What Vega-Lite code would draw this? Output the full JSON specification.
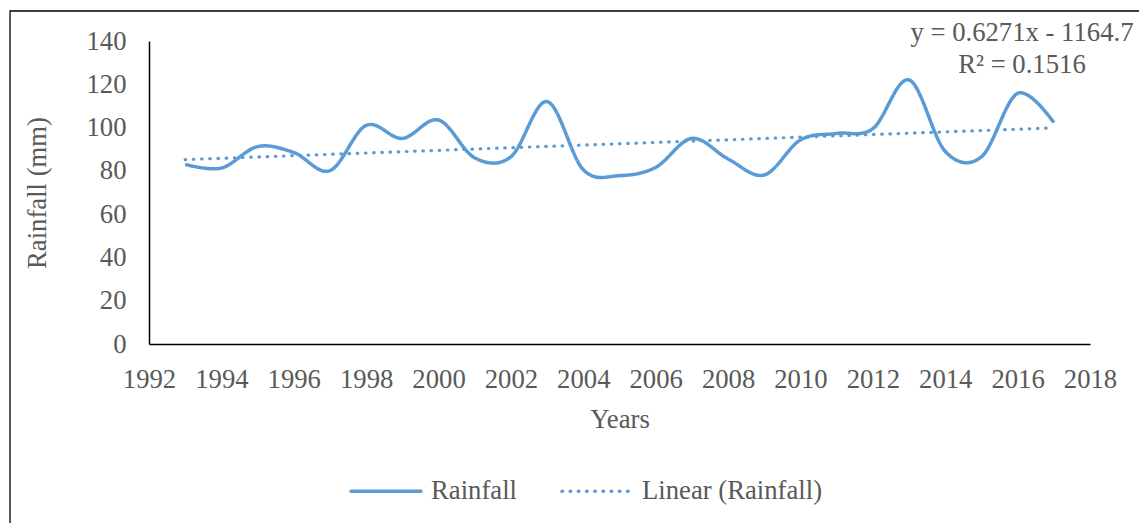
{
  "$schema": "https://vega.github.io/schema/vega-lite/v6.json",
  "width": 941,
  "height": 303,
  "autosize": "none",
  "padding": {"left": 149, "top": 41, "right": 49, "bottom": 179},
  "background": "white",
  "config": {
    "view": {"stroke": null},
    "font": "Liberation Serif",
    "style": {
      "guide-label": {"font": "Liberation Serif", "fill": "#595959"},
      "guide-title": {"font": "Liberation Serif", "fill": "#595959"}
    },
    "axis": {
      "labelFont": "Liberation Serif",
      "titleFont": "Liberation Serif",
      "labelFontSize": 26.7,
      "titleFontSize": 26.7,
      "labelColor": "#595959",
      "titleColor": "#595959",
      "titleFontWeight": "normal",
      "grid": false,
      "ticks": false,
      "tickSize": 0,
      "domainColor": "#000000",
      "domainWidth": 1.5,
      "labelOverlap": false,
      "labelFlush": false
    },
    "legend": {
      "labelFont": "Liberation Serif",
      "labelFontSize": 26.7,
      "labelColor": "#595959",
      "labelLimit": 500
    }
  },
  "data": {
    "values": [
      {"year": 1993, "rainfall": 83.0},
      {"year": 1994, "rainfall": 81.3},
      {"year": 1995, "rainfall": 91.2},
      {"year": 1996, "rainfall": 88.5},
      {"year": 1997, "rainfall": 80.1},
      {"year": 1998, "rainfall": 101.0},
      {"year": 1999, "rainfall": 95.0},
      {"year": 2000, "rainfall": 103.5},
      {"year": 2001, "rainfall": 86.0},
      {"year": 2002, "rainfall": 86.5},
      {"year": 2003, "rainfall": 112.0},
      {"year": 2004, "rainfall": 80.5},
      {"year": 2005, "rainfall": 77.8},
      {"year": 2006, "rainfall": 81.6},
      {"year": 2007, "rainfall": 95.0},
      {"year": 2008, "rainfall": 85.5},
      {"year": 2009, "rainfall": 78.1},
      {"year": 2010, "rainfall": 94.3},
      {"year": 2011, "rainfall": 97.3},
      {"year": 2012, "rainfall": 99.5},
      {"year": 2013, "rainfall": 122.0},
      {"year": 2014, "rainfall": 89.0},
      {"year": 2015, "rainfall": 86.5},
      {"year": 2016, "rainfall": 115.8},
      {"year": 2017, "rainfall": 102.3}
    ]
  },
  "layer": [
    {
      "data": {"values": [{}]},
      "mark": {"type": "rect", "filled": false, "stroke": "#000000", "strokeWidth": 1.3},
      "encoding": {
        "x": {"datum": 1988.16, "type": "quantitative"},
        "x2": {"datum": 2040},
        "y": {"datum": 153.86, "type": "quantitative"},
        "y2": {"datum": -100}
      }
    },
    {
      "transform": [{"regression": "rainfall", "on": "year"}],
      "mark": {"type": "line", "color": "#5B9BD5", "strokeWidth": 3.2, "strokeCap": "round"},
      "encoding": {
        "x": {"field": "year", "type": "quantitative"},
        "y": {"field": "rainfall", "type": "quantitative"},
        "strokeDash": {"datum": "Linear (Rainfall)", "type": "nominal"}
      }
    },
    {
      "mark": {"type": "line", "interpolate": "cardinal", "color": "#5B9BD5", "strokeWidth": 3.5},
      "encoding": {
        "x": {
          "field": "year",
          "type": "quantitative",
          "scale": {"domain": [1992, 2018], "nice": false, "zero": false},
          "axis": {
            "title": "Years",
            "values": [1992, 1994, 1996, 1998, 2000, 2002, 2004, 2006, 2008, 2010, 2012, 2014, 2016, 2018],
            "format": "d",
            "labelFont": "Liberation Serif",
            "titleFont": "Liberation Serif",
            "labelPadding": 22,
            "titlePadding": 14
          }
        },
        "y": {
          "field": "rainfall",
          "type": "quantitative",
          "scale": {"domain": [0, 140], "nice": false},
          "axis": {
            "title": "Rainfall (mm)",
            "values": [0, 20, 40, 60, 80, 100, 120, 140],
            "labelFont": "Liberation Serif",
            "titleFont": "Liberation Serif",
            "labelPadding": 23,
            "titlePadding": 34
          }
        },
        "strokeDash": {
          "datum": "Rainfall",
          "type": "nominal",
          "scale": {"domain": ["Rainfall", "Linear (Rainfall)"], "range": [[1, 0], [0.5, 7.7]]},
          "legend": {
            "title": null,
            "orient": "none",
            "direction": "horizontal",
            "legendX": 200,
            "legendY": 413,
            "symbolType": "stroke",
            "symbolSize": 4900,
            "symbolStrokeWidth": 3.5,
            "symbolStrokeColor": "#5B9BD5",
            "labelFont": "Liberation Serif",
            "labelLimit": 500,
            "labelOffset": 8,
            "columnPadding": 38,
            "encode": {"symbols": {"update": {"strokeCap": {"value": "round"}}}}
          }
        }
      }
    },
    {
      "data": {"values": [{}]},
      "mark": {"type": "text", "font": "Liberation Serif", "fontSize": 26.7, "color": "#595959", "align": "center", "baseline": "middle"},
      "encoding": {
        "x": {"datum": 2016.12, "type": "quantitative"},
        "y": {"datum": 143.7, "type": "quantitative"},
        "text": {"value": "y = 0.6271x - 1164.7"}
      }
    },
    {
      "data": {"values": [{}]},
      "mark": {"type": "text", "font": "Liberation Serif", "fontSize": 26.7, "color": "#595959", "align": "center", "baseline": "middle"},
      "encoding": {
        "x": {"datum": 2016.12, "type": "quantitative"},
        "y": {"datum": 129.1, "type": "quantitative"},
        "text": {"value": "R² = 0.1516"}
      }
    }
  ]
}
